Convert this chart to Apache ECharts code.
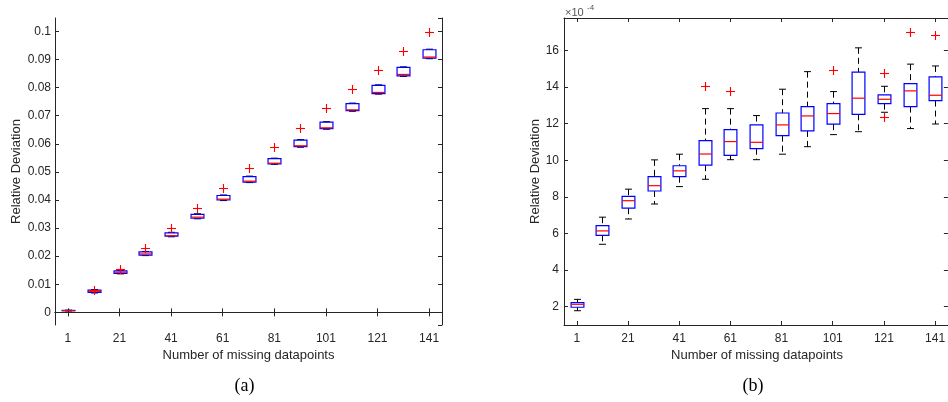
<!DOCTYPE html>
<html>
<head>
<meta charset="utf-8">
<script src="https://cdn.jsdelivr.net/npm/echarts@6/dist/echarts.min.js"></script>
<style>
  html, body { margin: 0; background: #fff; }
  #chart { width: 948px; height: 402px; }
</style>
</head>
<body>
<div id="chart"></div>
<script>
// x categories: number of missing datapoints
const categories = ['1', '11', '21', '31', '41', '51', '61', '71', '81', '91', '101', '111', '121', '131', '141'];

// (a) relative deviation, box statistics
const aMin = [0.0005, 0.0069, 0.0137, 0.0202, 0.0269, 0.0333, 0.0398, 0.0462, 0.0527, 0.0588, 0.0652, 0.0716, 0.0777, 0.0840, 0.0903];
const aQ1  = [0.0006, 0.0071, 0.0139, 0.0204, 0.0271, 0.0335, 0.0400, 0.0464, 0.0529, 0.0590, 0.0654, 0.0718, 0.0779, 0.0842, 0.0905];
const aMed = [0.0006, 0.0075, 0.0143, 0.0208, 0.0273, 0.0339, 0.0403, 0.0467, 0.0531, 0.0593, 0.0657, 0.0721, 0.0783, 0.0847, 0.0909];
const aQ3  = [0.0007, 0.0079, 0.0148, 0.0215, 0.0283, 0.0349, 0.0416, 0.0483, 0.0547, 0.0613, 0.0677, 0.0743, 0.0808, 0.0872, 0.0935];
const aMax = [0.0008, 0.0081, 0.0150, 0.0217, 0.0285, 0.0351, 0.0418, 0.0485, 0.0549, 0.0615, 0.0679, 0.0745, 0.0810, 0.0874, 0.0937];
// outliers: [category index, value]
const aOutliers = [[1, 0.0080], [2, 0.0155], [3, 0.0228], [4, 0.0299], [5, 0.0373], [6, 0.0444], [7, 0.0515],
  [8, 0.0587], [9, 0.0656], [10, 0.0727], [11, 0.0795], [12, 0.0864], [13, 0.0929], [14, 0.0998]];

// (b) relative deviation, in units of 1e-4
const bMin = [1.78, 5.41, 6.79, 7.61, 8.56, 8.96, 10.03, 10.03, 10.33, 10.74, 11.40, 11.56, 12.62, 11.73, 11.98];
const bQ1  = [1.97, 5.90, 7.38, 8.32, 9.10, 9.73, 10.27, 10.63, 11.34, 11.60, 11.97, 12.51, 13.09, 12.93, 13.26];
const bMed = [2.13, 6.14, 7.79, 8.61, 9.42, 10.34, 11.02, 10.98, 11.93, 12.42, 12.55, 13.39, 13.33, 13.79, 13.55];
const bQ3  = [2.22, 6.43, 8.03, 9.10, 9.70, 11.07, 11.67, 11.93, 12.58, 12.93, 13.09, 14.81, 13.57, 14.19, 14.55];
const bMax = [2.40, 6.89, 8.42, 10.02, 10.33, 12.82, 12.82, 12.44, 13.88, 14.84, 13.75, 16.14, 14.04, 15.25, 15.15];
const bOutliers = [[5, 14.04], [6, 13.77], [10, 14.92], [12, 14.79], [12, 12.38], [13, 16.99], [14, 16.86]];

const axisColor = '#262626';
const font = '"Liberation Sans", Arial, sans-serif';

function boxRows(mn, q1, md, q3, mx) {
  return categories.map((c, i) => [i, mn[i], q1[i], md[i], q3[i], mx[i]]);
}

// matlab style box: dashed black whiskers, blue box, red median
function renderBox(params, api) {
  const i = api.value(0);
  const lo = api.coord([i, api.value(1)]);
  const q1 = api.coord([i, api.value(2)]);
  const md = api.coord([i, api.value(3)]);
  const q3 = api.coord([i, api.value(4)]);
  const hi = api.coord([i, api.value(5)]);
  const band = api.size([1, 0])[0];
  const hw = band * 0.25, cw = band * 0.135;
  const x = Math.round(lo[0]) + 0.5;
  const dash = { stroke: '#000', lineWidth: 1, lineDash: [6, 4] };
  const solid = { stroke: '#000', lineWidth: 1 };
  return {
    type: 'group',
    children: [
      { type: 'line', shape: { x1: x, y1: hi[1], x2: x, y2: q3[1] }, style: dash },
      { type: 'line', shape: { x1: x, y1: q1[1], x2: x, y2: lo[1] }, style: dash },
      { type: 'line', shape: { x1: x - cw, y1: hi[1], x2: x + cw, y2: hi[1] }, style: solid },
      { type: 'line', shape: { x1: x - cw, y1: lo[1], x2: x + cw, y2: lo[1] }, style: solid },
      { type: 'rect', shape: { x: x - hw, y: q3[1], width: 2 * hw, height: q1[1] - q3[1] },
        style: { fill: 'none', stroke: '#0000ff', lineWidth: 1.2 } },
      { type: 'line', shape: { x1: x - hw, y1: md[1], x2: x + hw, y2: md[1] },
        style: { stroke: '#ff0000', lineWidth: 1.2 } }
    ]
  };
}

// red "+" outlier marker
function renderPlus(params, api) {
  const p = api.coord([api.value(0), api.value(1)]);
  const x = Math.round(p[0]) + 0.5, y = Math.round(p[1]) + 0.5;
  const s = { stroke: '#ff0000', lineWidth: 1.1 };
  return {
    type: 'group',
    children: [
      { type: 'line', shape: { x1: x - 4.5, y1: y, x2: x + 4.5, y2: y }, style: s },
      { type: 'line', shape: { x1: x, y1: y - 4.5, x2: x, y2: y + 4.5 }, style: s }
    ]
  };
}

function xAxes(grid) {
  const tick = { show: true, inside: true, alignWithLabel: true, interval: 1, length: 4, lineStyle: { color: axisColor } };
  return [
    { gridIndex: grid, type: 'category', data: categories, position: 'bottom', boundaryGap: true,
      axisLine: { lineStyle: { color: axisColor, width: 1 } }, axisTick: tick,
      axisLabel: { interval: 1, color: axisColor, fontSize: 12, fontFamily: font, margin: 8 },
      splitLine: { show: false } },
    { gridIndex: grid, type: 'category', data: categories, position: 'top', boundaryGap: true,
      axisLine: { lineStyle: { color: axisColor, width: 1 } }, axisTick: tick,
      axisLabel: { show: false }, splitLine: { show: false } }
  ];
}

function yAxes(grid, min, max, split, margin) {
  const tick = { show: true, inside: true, length: 4, lineStyle: { color: axisColor } };
  return [
    { gridIndex: grid, type: 'value', min: min, max: max, splitNumber: split, position: 'left',
      axisLine: { show: true, lineStyle: { color: axisColor, width: 1 } }, axisTick: tick,
      axisLabel: { color: axisColor, fontSize: 12, fontFamily: font, margin: margin,
        showMinLabel: false, showMaxLabel: false },
      splitLine: { show: false } },
    { gridIndex: grid, type: 'value', min: min, max: max, splitNumber: split, position: 'right',
      axisLine: { show: true, lineStyle: { color: axisColor, width: 1 } }, axisTick: tick,
      axisLabel: { show: false }, splitLine: { show: false } }
  ];
}

function txt(text, x, y, size, opts) {
  return Object.assign({
    type: 'text', x: x, y: y, silent: true,
    style: { text: text, fill: axisColor, font: size + 'px ' + font, textAlign: 'center', textVerticalAlign: 'middle' }
  }, opts || {});
}

const chart = echarts.init(document.getElementById('chart'), null, { renderer: 'canvas' });
chart.setOption({
  animation: false,
  backgroundColor: '#fff',
  grid: [
    { left: 55, top: 18, width: 387, height: 307 },
    { left: 564, top: 18, width: 387, height: 307 }
  ],
  xAxis: xAxes(0).concat(xAxes(1)),
  yAxis: yAxes(0, -0.0045, 0.1048, 10, 4).concat(yAxes(1, 1.0, 17.77, 8, 5)),
  series: [
    { type: 'custom', xAxisIndex: 0, yAxisIndex: 0, renderItem: renderBox,
      encode: { x: 0, y: [1, 2, 3, 4, 5] }, data: boxRows(aMin, aQ1, aMed, aQ3, aMax), z: 3 },
    { type: 'custom', xAxisIndex: 0, yAxisIndex: 0, renderItem: renderPlus,
      encode: { x: 0, y: 1 }, data: aOutliers, z: 4 },
    { type: 'custom', xAxisIndex: 2, yAxisIndex: 2, renderItem: renderBox,
      encode: { x: 0, y: [1, 2, 3, 4, 5] }, data: boxRows(bMin, bQ1, bMed, bQ3, bMax), z: 3 },
    { type: 'custom', xAxisIndex: 2, yAxisIndex: 2, renderItem: renderPlus,
      encode: { x: 0, y: 1 }, data: bOutliers, z: 4 }
  ],
  graphic: [
    txt('Relative Deviation', 16, 171.5, 13, { rotation: Math.PI / 2 }),
    txt('Relative Deviation', 535, 171.5, 13, { rotation: Math.PI / 2 }),
    txt('Number of missing datapoints', 248.5, 355, 13),
    txt('Number of missing datapoints', 757, 355, 13),
    {
      type: 'text', x: 565, y: 13, silent: true,
      style: { text: '×10', fill: '#555', font: '11px ' + font, textAlign: 'left', textVerticalAlign: 'middle' }
    },
    {
      type: 'text', x: 587, y: 8, silent: true,
      style: { text: '-4', fill: '#555', font: '8px ' + font, textAlign: 'left', textVerticalAlign: 'middle' }
    },
    {
      type: 'text', x: 244.5, y: 386, silent: true,
      style: { text: '(a)', fill: '#000', font: '18px "Liberation Serif", "Times New Roman", serif', textAlign: 'center', textVerticalAlign: 'middle' }
    },
    {
      type: 'text', x: 753, y: 386, silent: true,
      style: { text: '(b)', fill: '#000', font: '18px "Liberation Serif", "Times New Roman", serif', textAlign: 'center', textVerticalAlign: 'middle' }
    }
  ]
});
</script>
</body>
</html>
